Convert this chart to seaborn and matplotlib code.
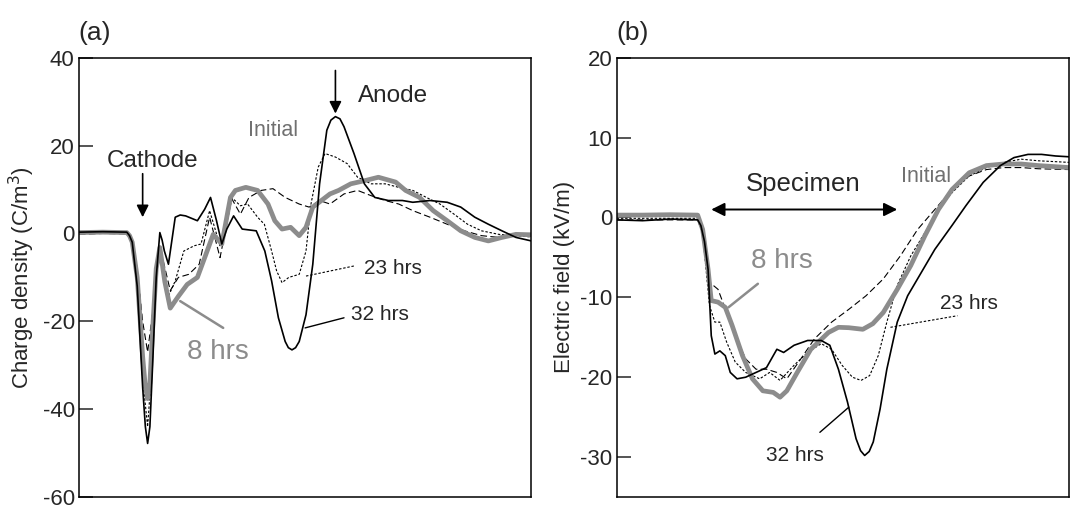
import numpy as np
import pandas as pd
import matplotlib
matplotlib.use("Agg")
import matplotlib.pyplot as plt
import seaborn as sns

# ---- panel (a): charge density, position across specimen (0-100) ----
a_x_32 = [0, 5.3, 10.6, 11.2, 11.8, 12.9, 14.1, 14.7, 15.2, 15.7, 16.3, 17.1, 17.9, 18.4, 18.9,
          19.8, 20.5, 21.3, 22.4, 23.6, 26.2, 27.8, 29.1, 30.4, 31.6, 32.7, 34.2, 36.1, 39.2,
          41.1, 42.6, 44.1, 45.6, 46.3, 47.1, 47.9, 48.7, 50.2, 51.7, 53.2, 54.8, 55.7, 56.7,
          57.7, 58.6, 60.8, 63.1, 65.4, 68.4, 71.5, 73.8, 77.6, 81.4, 84.4, 87.5, 90.5, 93.5,
          96.6, 100]
a_y_32 = [0.3, 0.4, 0.3, -0.5, -2, -12, -35, -44, -47.8, -44, -30, -10, 0.2, -1.5, -4,
          -7, -2, 3.7, 4.2, 4, 2.9, 5.5, 8.2, 3, -2.4, 1, 4, 1, 0.6,
          -4, -10.8, -19.2, -24.6, -26, -26.5, -26, -24.6, -18.5, -7, 11.3, 23.5, 25.8, 26.6,
          26.1, 24.3, 18.2, 11.3, 8.2, 7.5, 7.5, 7.1, 7.5, 7.1, 6, 3.7, 2.1, 0.6,
          -0.9, -1.7]

a_x_8 = [0, 5.3, 10.6, 11.2, 11.8, 12.9, 14.1, 14.7, 15.2, 15.7, 16.3, 17.1, 17.9, 19, 20.2,
         22, 23.95, 26.2, 28.1, 29.7, 31.6, 33.5, 34.6, 36.9, 39.5, 41.8, 43.3, 44.9, 46.8,
         48.7, 50.2, 51.7, 53.6, 55.5, 57.4, 60.1, 63.1, 66.2, 70, 72.2, 75.3, 78.3, 81.4,
         84.4, 87.5, 90.5, 93.5, 96.6, 100]
a_y_8 = [0.2, 0.3, 0.2, -0.5, -2, -10, -28, -35, -37.6, -34, -22, -8, -3.2, -11, -17,
         -14.3, -11.6, -10, -4.7, -0.2, -2.4, 8.2, 9.8, 10.5, 9.8, 6.7, 2.9, 1, 1.4,
         -0.5, 1.4, 6, 7.5, 9, 9.8, 11.3, 12, 12.8, 11.7, 9.8, 8.2, 5.2, 2.9,
         0.6, -0.9, -1.7, -0.9, -0.2, -0.3]

a_x_23 = [0, 5.3, 10.6, 11.8, 12.9, 14.1, 15.2, 16.3, 17.1, 17.9, 19.8, 21.3, 23.2, 25.5, 27,
          28.9, 31.2, 33.8, 35.7, 37.3, 39.5, 41, 42.6, 43.7, 44.9, 46.4, 48.7, 50.2, 51.3,
          52.9, 54.4, 56.7, 59.3, 61.6, 64.6, 67.7, 70.7, 73.8, 76.8, 79.8, 82.9, 85.9, 89,
          92.8, 96.6, 100]
a_y_23 = [0.1, 0, 0.1, -2, -12, -33, -44, -28, -9, -2.8, -14.3, -10.8, -4, -2.8, -2.4,
          5.2, -2.8, 8.2, 6.3, 6.7, 3.7, 2.1, -4, -8.5, -11.2, -10, -9.3, -4, 6.7,
          15.1, 18.2, 17.4, 15.9, 12.8, 11.3, 11.3, 10.5, 9.8, 8.2, 6.7, 4.4, 2.1, 0.6,
          -0.2, -0.5, -0.8]

a_x_init = [0, 5.3, 10.6, 11.8, 12.9, 14.1, 15.2, 16.3, 17.1, 17.9, 20.2, 22, 24.3, 26.6, 28.9,
            31.2, 33.8, 35.7, 37.6, 40.3, 42.9, 45.6, 48.7, 50.9, 53.2, 55.5, 58.6, 61.6, 64.6,
            67.7, 70.7, 73.8, 77.6, 81.4, 85.2, 89, 92.8, 96.6, 100]
a_y_init = [-0.2, 0, -0.1, -2, -8, -20, -27, -18, -7, -3, -13, -10, -9.3, -7, 3.7,
            -5.5, 7.9, 4.4, 8.2, 9.8, 10.2, 8.2, 6.7, 6, 7.5, 6.7, 9, 9.8, 8.6,
            7.5, 6.7, 5.2, 3.7, 2.1, 0.6, -0.5, -0.9, -0.5, -0.2]

# ---- panel (b): electric field ----
b_x_32 = [0, 5.7, 11.8, 17.9, 18.6, 19.4, 20.2, 20.9, 21.7, 22.8, 24, 25.1, 26.6, 28.5, 30.8,
          33.1, 35.4, 36.9, 39.2, 42.2, 45.2, 47.1, 49, 51, 52.9, 53.9, 54.8, 55.8, 56.7,
          58.2, 59.7, 62, 64.3, 67.3, 70.3, 74.1, 77.2, 81, 84.8, 87.8, 90.9, 93.9, 97, 100]
b_y_32 = [-0.3, -0.4, -0.2, -0.3, -1, -3, -6.5, -14.8, -17.1, -16.7, -17.3, -19.4, -20.2, -20, -19.4,
          -18.8, -16.5, -16.9, -16, -15.4, -15.4, -16, -19, -23.1, -27.7, -29.2, -29.8, -29.3, -28.1,
          -24, -19, -13.1, -9.8, -6.9, -4, -1, 1.5, 4.4, 6.5, 7.5, 7.9, 7.9, 7.7, 7.6]

b_x_8 = [0, 5.7, 11.8, 17.9, 19, 20.2, 20.9, 22.4, 24, 25.5, 27.8, 30, 32.3, 34.6, 36.1,
         37.6, 39.9, 42.9, 46.8, 49, 51.3, 54.4, 56.6, 58.9, 62, 65, 68.1, 71.1, 74.1,
         77.9, 81.7, 85.5, 89.4, 93.2, 100]
b_y_8 = [0.3, 0.3, 0.35, 0.3, -1.5, -6.5, -10.4, -10.6, -11.25, -13.5, -17.3, -20.2, -21.7, -21.9, -22.5,
         -21.7, -19.4, -16.5, -14.4, -13.75, -13.8, -14, -13.3, -11.9, -9, -6, -2.3, 1, 3.5,
         5.6, 6.5, 6.7, 6.7, 6.5, 6.25]

b_x_23 = [0, 5.7, 11.8, 17.9, 19, 20.5, 21.7, 22.8, 24.3, 26.2, 28.5, 31.6, 33.8, 36.1, 39.2,
          42.2, 45.2, 47.5, 49.8, 52.1, 54, 55.9, 57.8, 59.7, 62, 65, 68.1, 71.1, 74.1,
          77.9, 81.7, 85.5, 89.4, 93.2, 100]
b_y_23 = [-0.1, -0.1, -0.1, -0.1, -2, -11, -13.1, -13.1, -15.6, -18.1, -19.4, -20.2, -19.4, -20.4, -18.5,
          -16.9, -15.8, -16.5, -18.5, -20, -20.4, -19.8, -17.3, -13.1, -8.5, -4.8, -1.9, 1, 3.1,
          5.2, 6.25, 6.9, 7.3, 7.1, 6.9]

b_x_init = [0, 5.7, 11.8, 17.9, 19, 20.5, 22.4, 24.3, 26.2, 28.5, 30.8, 33.1, 35.4, 37.6, 40.7,
            43.7, 47.5, 51.3, 55.1, 58.9, 62.7, 66.5, 70.3, 74.1, 77.9, 81.7, 85.5, 89.4, 93.2, 100]
b_y_init = [-0.3, -0.3, -0.3, -0.3, -2, -8.1, -9, -11.9, -14.8, -17.7, -19, -19, -19.4, -20.2, -17.7,
            -15.2, -13.1, -11.5, -9.8, -7.7, -4.8, -1.5, 1, 3.5, 5.2, 6, 6.25, 6.25, 6.1, 6]

a_yticks = [-60, -40, -20, 0, 20, 40]
b_yticks = [-30, -20, -10, 0, 10, 20]

GRAY = "#8c8c8c"
TXTGRAY = "#707070"

sns.set_style("ticks")
plt.rcParams["font.family"] = ["Liberation Sans", "DejaVu Sans"]
plt.rcParams["axes.unicode_minus"] = False

fig = plt.figure(figsize=(10.8, 5.18), dpi=100)
ax1 = fig.add_axes([0.073, 0.0405, 0.419, 0.848])
ax2 = fig.add_axes([0.571, 0.0405, 0.419, 0.848])


def draw(ax, xs, ys, **kw):
    df = pd.DataFrame({"x": xs, "y": ys})
    sns.lineplot(data=df, x="x", y="y", ax=ax, estimator=None, sort=False, **kw)


for ax, data in [
    (ax1, [(a_x_init, a_y_init), (a_x_23, a_y_23), (a_x_8, a_y_8), (a_x_32, a_y_32)]),
    (ax2, [(b_x_init, b_y_init), (b_x_23, b_y_23), (b_x_8, b_y_8), (b_x_32, b_y_32)]),
]:
    (xi, yi), (x23, y23), (x8, y8), (x32, y32) = data
    draw(ax, xi, yi, color="black", linewidth=0.8, linestyle=(0, (6, 3)))
    draw(ax, x23, y23, color="black", linewidth=0.8, linestyle=(0, (2.2, 1.6)))
    draw(ax, x8, y8, color=GRAY, linewidth=3.4, solid_joinstyle="round")
    draw(ax, x32, y32, color="black", linewidth=1.2)

for ax, lim, ticks in [(ax1, (-60, 40), a_yticks), (ax2, (-35, 20), b_yticks)]:
    ax.set_xlim(0, 100)
    ax.set_ylim(*lim)
    ax.set_yticks(ticks)
    ax.set_xticks([])
    ax.set_xlabel("")
    ax.tick_params(axis="y", direction="in", length=10, width=1.1, labelsize=16, pad=3)
    for s in ax.spines.values():
        s.set_visible(True)
        s.set_linewidth(1.1)
        s.set_color("black")

ax1.set_ylabel("Charge density (C/m$^3$)", fontsize=16, labelpad=4)
ax2.set_ylabel("Electric field (kV/m)", fontsize=16, labelpad=4)

fig.text(0.073, 0.936, "(a)", fontsize=19, va="center", ha="left")
fig.text(0.571, 0.936, "(b)", fontsize=19, va="center", ha="left")

# panel (a) annotations
arw = dict(arrowstyle="-|>", color="black", lw=1.2, mutation_scale=18, shrinkA=0, shrinkB=0)
ax1.text(16.3, 16.6, "Cathode", fontsize=17.5, ha="center", va="center")
ax1.annotate("", xy=(14.1, 3.7), xytext=(14.1, 13.6), arrowprops=arw)
ax1.text(61.6, 31.3, "Anode", fontsize=17.5, ha="left", va="center")
ax1.annotate("", xy=(56.7, 27.3), xytext=(56.7, 37.1), arrowprops=arw)
ax1.text(43, 23.5, "Initial", fontsize=15.5, color=TXTGRAY, ha="center", va="center")
ax1.text(63.1, -7.9, "23 hrs", fontsize=15, ha="left", va="center")
ax1.plot([50.2, 60.8], [-9.7, -7.4], color="black", lw=0.8, ls=(0, (2.2, 1.6)))
ax1.text(60.2, -18.5, "32 hrs", fontsize=15, ha="left", va="center")
ax1.plot([50, 58.6], [-21.5, -19.2], color="black", lw=1.0)
ax1.text(30.8, -26.9, "8 hrs", fontsize=20, color=GRAY, ha="center", va="center")
ax1.plot([22.4, 31.9], [-15.4, -21.5], color=GRAY, lw=1.8)

# panel (b) annotations
ax2.text(41.1, 4.2, "Specimen", fontsize=18.5, ha="center", va="center")
ax2.annotate("", xy=(20.9, 1), xytext=(62, 1),
             arrowprops=dict(arrowstyle="<|-|>", color="black", lw=1.4, mutation_scale=20,
                             shrinkA=0, shrinkB=0))
ax2.text(68.4, 5.1, "Initial", fontsize=15.5, color=TXTGRAY, ha="center", va="center")
ax2.text(36.5, -5.4, "8 hrs", fontsize=20, color=GRAY, ha="center", va="center")
ax2.plot([31.2, 24.7], [-8.3, -11.25], color=GRAY, lw=1.8)
ax2.text(77.9, -10.8, "23 hrs", fontsize=15, ha="center", va="center")
ax2.plot([60.5, 75.3], [-13.75, -12.3], color="black", lw=0.8, ls=(0, (2.2, 1.6)))
ax2.text(39.5, -29.8, "32 hrs", fontsize=15, ha="center", va="center")
ax2.plot([44.9, 51.3], [-26.9, -23.75], color="black", lw=1.0)

fig.savefig("out.png", dpi=100)
